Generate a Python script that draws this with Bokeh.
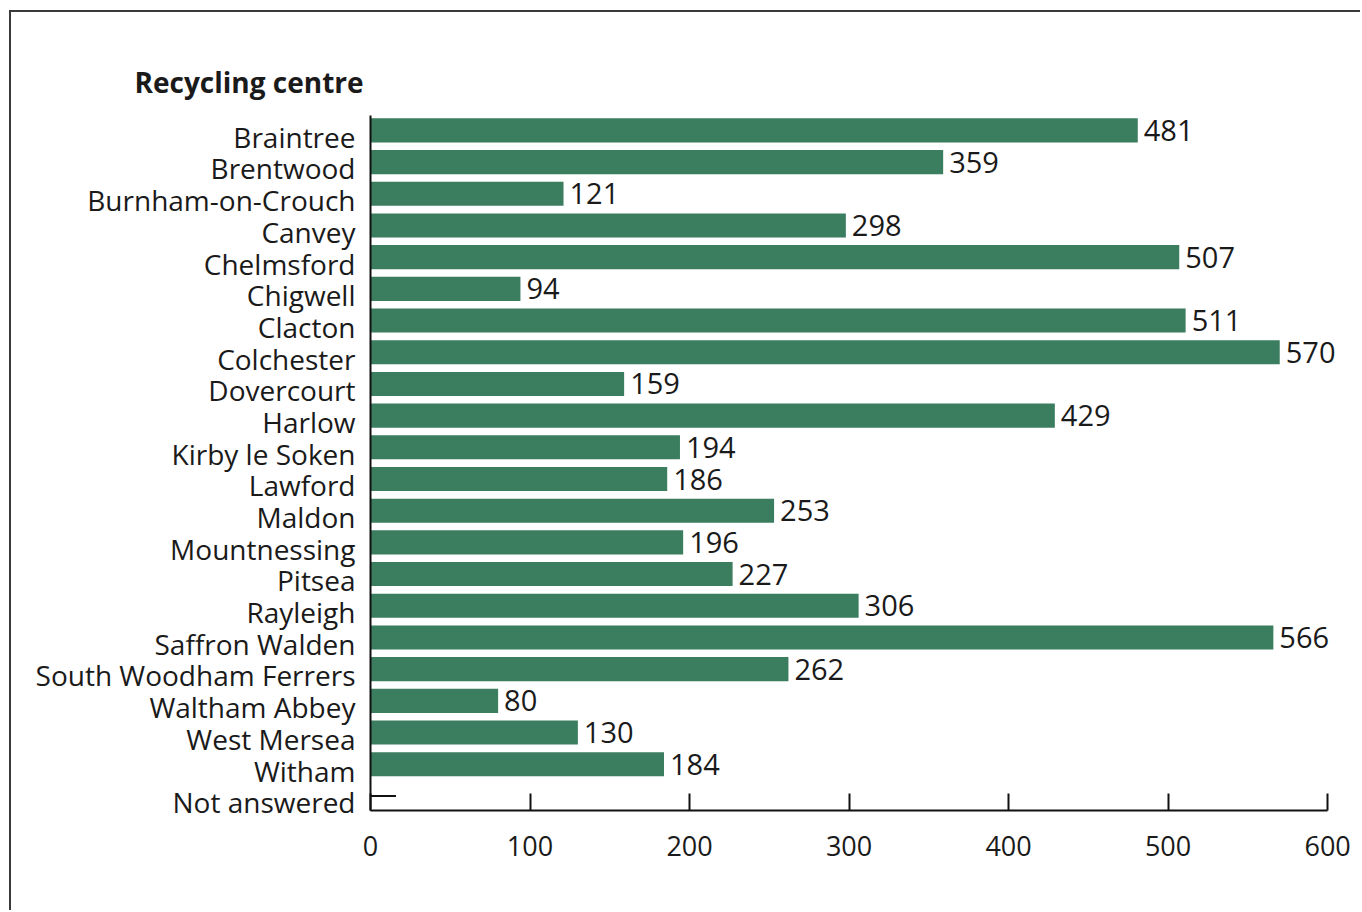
from bokeh.plotting import figure
from bokeh.models import Range1d, ColumnDataSource, Title, FixedTicker
from bokeh.core.properties import value
from bokeh.transform import dodge
from bokeh.embed import file_html
from bokeh.resources import INLINE

centres = ["Braintree", "Brentwood", "Burnham-on-Crouch", "Canvey", "Chelmsford",
           "Chigwell", "Clacton", "Colchester", "Dovercourt", "Harlow",
           "Kirby le Soken", "Lawford", "Maldon", "Mountnessing", "Pitsea",
           "Rayleigh", "Saffron Walden", "South Woodham Ferrers", "Waltham Abbey",
           "West Mersea", "Witham", "Not answered"]
counts = [481, 359, 121, 298, 507, 94, 511, 570, 159, 429,
          194, 186, 253, 196, 227, 306, 566, 262, 80, 130, 184, None]
not_answered_stub = 16  # tiny unlabelled stub drawn on the "Not answered" row
x_ticks = [0, 100, 200, 300, 400, 500, 600]

FONT = "Open Sans"
BAR = "#3a7d5f"
TXT = "#1a1a1a"
AX = "#111111"

pos = list(range(len(centres)))
bar_y = [i for i, v in zip(pos, counts) if v is not None]
bar_v = [v for v in counts if v is not None]
src = ColumnDataSource(dict(y=bar_y, v=bar_v, lab=[str(v) for v in bar_v]))
stub = ColumnDataSource(dict(y=[pos[-1]], v=[not_answered_stub]))

p = figure(width=1351, height=900, output_backend="svg", toolbar_location=None,
           y_range=Range1d(len(centres) - 0.74, -0.67),
           x_range=Range1d(0, 620),
           min_border_left=359, min_border_right=3, min_border_top=103,
           min_border_bottom=102)
yb = dodge("y", -0.2, range=p.y_range)
p.hbar(y=yb, right="v", left=0, height=0.76, source=src, color=BAR, line_color=None)
p.segment(x0=0, y0=yb, x1="v", y1=yb, source=stub, line_color=AX, line_width=2)
p.text(x="v", y=yb, text="lab", source=src, x_offset=6, text_baseline="middle",
       text_align="left", text_font=value(FONT), text_font_size="29px", text_color=TXT)

p.outline_line_color = None
p.grid.visible = False
p.background_fill_color = None
p.border_fill_color = None

xa = p.xaxis[0]
xa.ticker = FixedTicker(ticks=x_ticks)
xa.bounds = (0, 600)
xa.axis_line_color = AX
xa.axis_line_width = 2
xa.major_tick_in = 17
xa.major_tick_out = 0
xa.major_tick_line_color = AX
xa.major_tick_line_width = 2
xa.minor_tick_line_color = None
xa.major_label_text_font = FONT
xa.major_label_text_font_size = "27px"
xa.major_label_text_color = TXT
xa.major_label_standoff = 25

ya = p.yaxis[0]
ya.ticker = FixedTicker(ticks=pos)
ya.major_label_overrides = {i: c for i, c in zip(pos, centres)}
ya.axis_line_color = AX
ya.axis_line_width = 2
ya.major_tick_line_color = None
ya.major_tick_in = 0
ya.major_tick_out = 0
ya.minor_tick_line_color = None
ya.major_label_text_font = FONT
ya.major_label_text_font_size = "28px"
ya.major_label_text_color = TXT
ya.major_label_standoff = 15

p.title = Title(text="Recycling centre", align="left", offset=-236,
                text_font=FONT, text_font_size="28px", text_font_style="bold",
                text_color=TXT, standoff=29)

p.styles = {"border-top": "2px solid #3a3a3a", "border-left": "2px solid #3a3a3a",
            "margin-left": "9px", "margin-top": "10px"}

open("out.html", "w").write(file_html(p, INLINE))
